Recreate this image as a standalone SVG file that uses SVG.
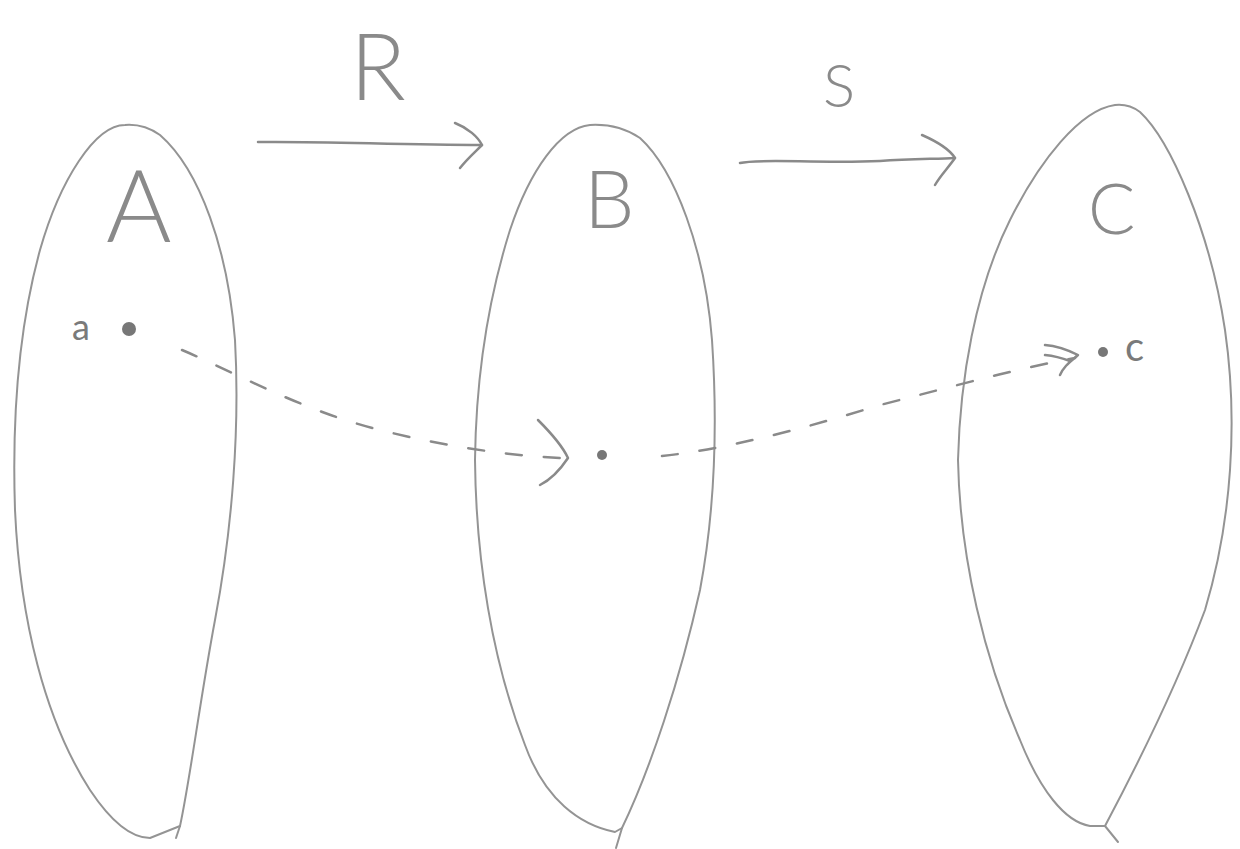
<svg xmlns="http://www.w3.org/2000/svg" width="1240" height="849" viewBox="0 0 1240 849">
<style>
.outline{fill:none;stroke:#949494;stroke-width:2;stroke-linecap:round;stroke-linejoin:round}
.arrow{fill:none;stroke:#8a8a8a;stroke-width:2.5;stroke-linecap:round;stroke-linejoin:round}
.dash{fill:none;stroke:#8a8a8a;stroke-width:2.5;stroke-linecap:round;stroke-dasharray:16 22}
.lbl{font-family:Lato,"Liberation Sans",sans-serif;font-weight:300;fill:#8a8a8a}
.small{font-family:Lato,"Liberation Sans",sans-serif;font-weight:400;fill:#7a7a7a}
.dot{fill:#777}
</style>
<rect width="1240" height="849" fill="#fff"/>
<g id="setA">
<path class="outline" d="M125,125 C95,125 60,180 40,250 C18,330 12,420 15,510 C20,620 45,720 90,790 C110,820 130,838 150,838 L180,826 C190,780 200,700 215,620 C232,530 240,430 235,340 C228,250 200,170 160,135 C150,128 138,124 125,125 Z"/>
<path class="outline" d="M180,826 L176,838"/>
<text class="lbl" x="106" y="242" font-size="100">A</text>
<text class="small" x="72" y="340" font-size="36">a</text>
<circle class="dot" cx="129" cy="329" r="7"/>
</g>
<g id="setB">
<path class="outline" d="M590,125 C560,128 530,170 510,230 C488,300 476,380 475,460 C476,560 492,660 525,745 C545,800 580,825 615,832 L622,828 C650,770 680,680 700,590 C715,510 718,430 712,340 C705,250 675,170 640,138 C625,128 608,124 590,125 Z"/>
<path class="outline" d="M622,828 L616,848"/>
<text class="lbl" x="584" y="228" font-size="80">B</text>
<circle class="dot" cx="602" cy="455" r="5"/>
</g>
<g id="setC">
<path class="outline" d="M1115,105 C1080,110 1040,160 1010,220 C975,290 960,380 958,460 C960,560 985,660 1020,740 C1040,790 1065,822 1090,826 L1105,826 C1140,760 1175,690 1205,610 C1232,520 1238,420 1225,330 C1210,230 1170,140 1140,112 C1132,106 1124,104 1115,105 Z"/>
<path class="outline" d="M1105,826 L1118,842"/>
<text class="lbl" x="1088" y="234" font-size="70">C</text>
<circle class="dot" cx="1103" cy="352" r="5"/>
<text class="small" x="1125" y="361" font-size="40">c</text>
</g>
<g id="connectors">
<path class="arrow" d="M258,142 C320,141 400,145 482,145"/>
<path class="arrow" d="M455,123 C468,128 478,137 482,145 C475,152 466,160 460,168"/>
<text class="lbl" x="350" y="100" font-size="92">R</text>
<path class="arrow" d="M740,163 C760,158 820,164 880,161 C910,159 935,159 955,158"/>
<path class="arrow" d="M922,135 C938,142 950,150 955,158 C948,168 940,176 935,185"/>
<text class="lbl" x="823" y="107" font-size="60">S</text>
<path class="dash" d="M182,350 C230,370 300,410 380,430 C440,445 500,455 560,458"/>
<path class="arrow" d="M538,420 C550,432 562,445 568,458 C560,470 550,480 540,485"/>
<path class="dash" d="M662,456 C720,450 800,430 880,405 C940,390 1010,370 1075,358"/>
<path class="arrow" d="M1045,345 C1058,346 1068,350 1078,355 C1070,362 1064,366 1060,375"/>
<path class="arrow" d="M1045,355 C1055,356 1062,358 1070,361"/>
</g>
</svg>
